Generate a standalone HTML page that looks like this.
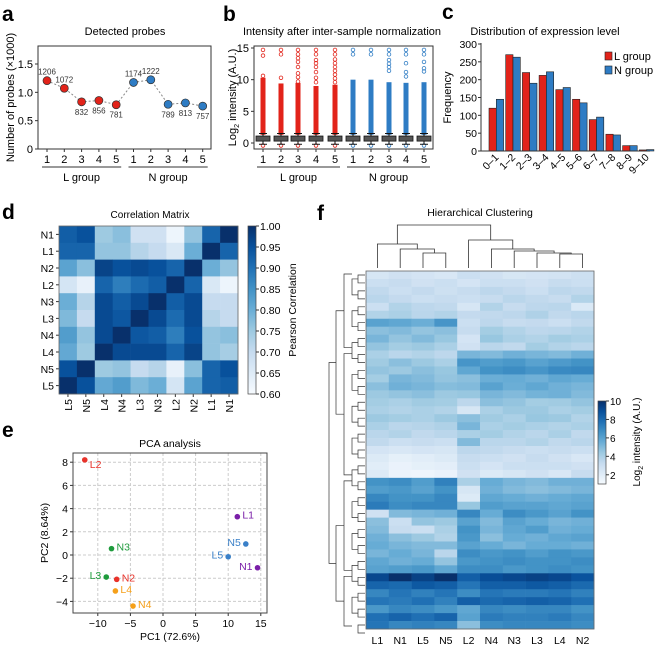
<!DOCTYPE html>
<html><head><meta charset="utf-8">
<style>
html,body{margin:0;padding:0;background:#fff;}
svg{display:block;font-family:"Liberation Sans",Arial,sans-serif;}
</style></head>
<body>
<svg id="fig" width="662" height="648" viewBox="0 0 662 648" xmlns="http://www.w3.org/2000/svg">
<text x="2" y="21" font-size="21" font-weight="bold">a</text>
<text x="223" y="21" font-size="21" font-weight="bold">b</text>
<text x="442" y="19" font-size="21" font-weight="bold">c</text>
<text x="2" y="219" font-size="21" font-weight="bold">d</text>
<text x="2" y="437" font-size="21" font-weight="bold">e</text>
<text x="317" y="220" font-size="21" font-weight="bold">f</text>
<g id="pa"></g>
<g id="pb"></g>
<g id="pc"></g>
<g id="pd"></g>
<g id="pe"></g>
<g id="pf"></g>
</svg>
<script>
const NS="http://www.w3.org/2000/svg";
function mk(parent,tag,attrs,txt){const e=document.createElementNS(NS,tag);for(const k in attrs)e.setAttribute(k,attrs[k]);if(txt!==undefined)e.textContent=txt;parent.appendChild(e);return e;}
function lerp(a,b,t){return a+(b-a)*t;}
const BLUES=[[247,251,255],[222,235,247],[198,219,239],[158,202,225],[107,174,214],[66,146,198],[33,113,181],[8,81,156],[8,48,107]];
function blue(t){t=Math.max(0,Math.min(1,t));const p=t*(BLUES.length-1);const i=Math.min(BLUES.length-2,Math.floor(p));const f=p-i;const a=BLUES[i],b=BLUES[i+1];return `rgb(${Math.round(lerp(a[0],b[0],f))},${Math.round(lerp(a[1],b[1],f))},${Math.round(lerp(a[2],b[2],f))})`;}

// ===== Panel a data =====
const aSamples=["1","2","3","4","5","1","2","3","4","5"];
const aValues=[1206,1072,832,856,781,1174,1222,789,813,757];
const aGroups=["L","L","L","L","L","N","N","N","N","N"];
const aYTicks=[0,0.5,1.0,1.5];
const aYTickLabels=["0","0.5","1.0","1.5"];

// ===== Panel b data =====
const bLDenseTop=[10.3,9.4,9.5,9.0,9.2];
const bNDenseTop=[10.0,10.0,9.6,9.5,9.6];
const bLSparse=[[10.6,13.8,14.7],[10.3,14.0,14.7],[9.7,10.4,11.0,12.0,12.8,13.4,14.0,14.7],[9.6,10.3,11.2,12.0,12.6,13.1,14.0,14.7],[9.6,10.2,10.8,11.4,12.0,12.6,13.2,14.0,14.7]];
const bNSparse=[[14.0,14.7],[14.0,14.7],[11.4,12.0,12.5,13.1,14.0,14.7],[10.5,11.2,12.6,14.0,14.7],[11.3,11.8,12.8,14.0,14.7]];
const bMedian=[0.7,0.7,0.7,0.7,0.7,0.7,0.7,0.7,0.7,0.7];
const bYTicks=[0,5,10,15];

// ===== Panel c data =====
const cCats=["0–1","1–2","2–3","3–4","4–5","5–6","6–7","7–8","8–9","9–10"];
const cL=[120,270,220,212,172,145,88,47,15,3];
const cN=[145,263,190,222,178,135,95,45,15,4];
const cYTicks=[0,50,100,150,200,250,300];

// ===== Panel d data =====
const dCols=["L5","N5","L4","N4","L3","N3","L2","N2","L1","N1"];
const dRows=["N1","L1","N2","L2","N3","L3","N4","L4","N5","L5"];
const dR0=[0.93,0.95,0.75,0.77,0.68,0.68,0.62,0.76,0.92,1.0];
const dR1=[0.92,0.92,0.76,0.76,0.72,0.70,0.66,0.80,1.0,0.92];
const dR2=[0.82,0.77,0.97,0.95,0.96,0.95,0.92,1.0,0.80,0.76];
const dR3=[0.67,0.63,0.92,0.88,0.91,0.93,1.0,0.92,0.66,0.62];
const dR4=[0.80,0.72,0.96,0.93,0.96,1.0,0.93,0.96,0.70,0.70];
const dR5=[0.78,0.70,0.96,0.94,1.0,0.96,0.91,0.96,0.72,0.70];
const dR6=[0.83,0.76,0.96,1.0,0.94,0.93,0.88,0.95,0.76,0.77];
const dR7=[0.81,0.75,1.0,0.96,0.96,0.96,0.92,0.97,0.76,0.74];
const dR8=[0.95,1.0,0.75,0.76,0.70,0.72,0.63,0.77,0.92,0.95];
const dR9=[1.0,0.95,0.81,0.83,0.78,0.80,0.67,0.82,0.92,0.93];
const dCbTicks=["1.00","0.95","0.90","0.85","0.80","0.75","0.70","0.65","0.60"];

// ===== Panel e data =====
const eLabels=["L2","N3","L3","N2","L4","N4","L1","N5","L5","N1"];
const ePC1=[-12,-7.9,-8.7,-7.1,-7.3,-4.6,11.4,12.7,10.0,14.5];
const ePC2=[8.2,0.55,-1.9,-2.1,-3.1,-4.4,3.3,0.95,-0.15,-1.1];
const eColors=["#e8322a","#1e9b3c","#1e9b3c","#e8322a","#f5a01a","#f5a01a","#7a1fa8","#3a80c8","#3a80c8","#7a1fa8"];
const eLabelSide=["r","r","l","r","r","r","r","l","l","l"];
const eXTicks=[-10,-5,0,5,10,15];
const eYTicks=[-4,-2,0,2,4,6,8];

// ===== Panel f data =====
const fCols=["L1","N1","L5","N5","L2","N4","N3","L3","L4","N2"];
const fRows=[
[2.5,2.8,2.6,2.4,3.0,2.8,2.5,2.6,2.7,2.9],
[3.0,3.2,2.8,3.0,2.6,3.0,3.0,2.8,3.2,3.0],
[3.4,3.0,3.3,2.9,3.2,3.5,3.3,3.0,3.5,3.4],
[3.6,3.3,3.0,3.2,3.0,3.2,3.6,3.4,3.2,3.8],
[3.0,3.8,3.5,3.4,2.5,3.8,3.2,3.5,3.6,2.3],
[3.8,4.0,3.6,3.8,3.3,3.4,3.5,3.9,3.4,3.6],
[6.0,5.8,5.5,6.5,3.0,3.5,3.2,3.3,3.0,3.4],
[4.8,5.0,4.6,4.8,3.2,4.2,3.8,3.5,3.6,3.8],
[5.2,4.6,5.0,4.5,2.6,4.5,4.0,3.8,4.2,4.0],
[4.6,4.2,4.4,4.0,2.8,3.6,3.4,4.2,3.8,3.6],
[4.0,3.6,3.8,3.5,5.2,5.0,5.4,5.2,5.0,5.4],
[4.3,4.8,4.4,4.0,6.5,6.2,6.4,6.0,6.3,6.6],
[4.6,4.4,4.8,4.5,5.8,6.6,6.8,6.5,6.9,7.0],
[4.2,5.2,5.0,4.6,4.8,5.5,5.6,5.4,5.8,5.6],
[4.8,5.4,5.2,4.9,5.0,6.0,5.5,5.8,5.4,5.2],
[4.4,4.6,4.8,4.4,4.5,5.2,5.0,5.3,5.4,5.0],
[4.2,4.0,4.3,4.2,3.5,4.8,4.6,4.2,4.3,4.6],
[4.0,3.8,4.0,3.8,2.5,4.0,4.4,4.4,4.0,4.2],
[4.4,4.2,4.0,4.4,4.8,4.3,4.0,4.5,4.4,3.8],
[4.0,3.6,3.7,3.9,5.2,4.0,4.2,4.0,3.8,4.0],
[3.6,3.8,3.4,3.6,4.0,4.2,3.8,3.6,4.0,3.4],
[3.4,3.0,3.2,3.0,5.0,3.6,3.6,3.8,3.4,3.6],
[2.6,2.4,2.6,2.5,3.5,3.4,3.2,3.0,3.2,3.0],
[2.2,1.8,2.0,2.2,3.2,3.0,2.8,3.2,2.8,2.4],
[2.0,1.6,1.8,1.9,3.0,2.6,3.0,3.0,3.0,2.8],
[2.2,1.5,1.4,1.6,2.8,2.2,2.5,2.8,2.4,3.2],
[6.6,6.8,6.2,7.2,4.0,5.6,5.2,5.0,5.4,5.4],
[6.2,6.4,6.0,6.6,2.5,5.4,5.0,4.8,5.0,5.2],
[7.0,6.6,6.6,7.0,2.2,5.8,5.6,5.4,5.6,5.8],
[7.4,6.8,7.0,7.0,4.5,6.2,6.0,6.0,5.8,6.0],
[2.8,5.0,5.2,5.4,7.0,5.6,6.8,6.4,6.0,6.6],
[4.8,3.0,4.6,4.4,6.0,5.0,6.0,5.6,5.2,5.4],
[5.0,3.2,3.0,4.0,6.6,5.2,5.8,6.2,5.4,5.6],
[5.4,4.8,4.4,3.8,6.4,4.8,5.6,5.4,5.8,6.0],
[5.6,5.2,5.0,5.0,6.0,5.6,5.2,5.6,5.6,5.4],
[5.2,5.6,5.2,3.6,6.8,6.4,6.6,6.2,6.6,6.4],
[5.8,5.4,5.6,4.6,6.4,6.6,6.8,6.6,6.6,6.8],
[6.0,6.2,6.4,5.8,6.8,6.8,6.4,6.6,6.8,6.6],
[9.2,10,9.4,10,8.4,9.0,9.2,9.4,9.2,8.8],
[8.2,8.0,8.6,8.4,7.6,8.4,8.4,8.6,8.4,8.0],
[7.0,7.6,7.2,7.6,6.8,7.6,7.4,7.4,7.6,7.2],
[7.6,7.4,7.8,7.2,8.4,8.0,8.2,8.4,8.2,7.8],
[6.4,7.0,6.8,6.4,5.8,7.0,6.8,7.0,7.0,6.6],
[7.8,8.2,7.8,8.2,6.0,7.4,7.2,7.2,7.4,7.0],
[7.6,7.0,7.2,7.0,4.8,6.8,7.0,7.0,7.0,6.8]];
const fCbTicks=[2,4,6,8,10];

// ================= Panel a =================
(function(){
const g=document.getElementById('pa');
const L=38,R=211,T=46,B=149;
const y=v=>B-v*(85/1.5);
const x=i=>47+i*17.3;
let t=mk(g,'text',{x:125,y:35,'font-size':11,'text-anchor':'middle'},'Detected probes');

let r=mk(g,'rect',{x:L,y:T,width:R-L,height:B-T,fill:'none',stroke:'#333','stroke-width':1});

aYTicks.forEach((v,i)=>{const tk=mk(g,'line',{x1:L-3,x2:L,y1:y(v),y2:y(v),stroke:'#333'});

const tl=mk(g,'text',{x:L-5,y:y(v)+4,'font-size':11,'text-anchor':'end'},aYTickLabels[i]);
});
t=mk(g,'text',{transform:`translate(14,${(T+B)/2}) rotate(-90)`,'font-size':11,'text-anchor':'middle'},'Number of probes (×1000)');

const pts=aValues.map((v,i)=>`${x(i)},${y(v/1000)}`).join(' ');
let pl=mk(g,'polyline',{points:pts,fill:'none',stroke:'#888','stroke-dasharray':'2,2','stroke-width':1});

aValues.forEach((v,i)=>{
const c=mk(g,'circle',{cx:x(i),cy:y(v/1000),r:4,fill:aGroups[i]=='L'?'#e2231a':'#2e7cc4',stroke:'#333','stroke-width':0.7});

const above=(i<2||i==5||i==6);
const lb=mk(g,'text',{x:x(i),y:above?y(v/1000)-6:y(v/1000)+13,'font-size':8,'text-anchor':'middle',fill:'#333'},String(v));

const xt=mk(g,'line',{x1:x(i),x2:x(i),y1:B,y2:B+3,stroke:'#333'});

const xl=mk(g,'text',{x:x(i),y:B+14,'font-size':11,'text-anchor':'middle'},aSamples[i]);
});
[['L group',x(0)-5,x(4)+5],['N group',x(5)-5,x(9)+5]].forEach(a=>{
const ln=mk(g,'line',{x1:a[1],x2:a[2],y1:167,y2:167,stroke:'#333'});

const tx=mk(g,'text',{x:(a[1]+a[2])/2,y:181,'font-size':11,'text-anchor':'middle'},a[0]);
});
})();

// ================= Panel b =================
(function(){
const g=document.getElementById('pb');
const L=254,R=433,T=46,B=149;
const y=v=>143-v*(95/15);
const xs=[263,281,298,316,335,353,371,389,406,424];
let t=mk(g,'text',{x:342,y:35,'font-size':11,'text-anchor':'middle'},'Intensity after inter-sample normalization');

let r=mk(g,'rect',{x:L,y:T,width:R-L,height:B-T,fill:'none',stroke:'#333'});

bYTicks.forEach(v=>{const tk=mk(g,'line',{x1:L-3,x2:L,y1:y(v),y2:y(v),stroke:'#333'});

const tl=mk(g,'text',{x:L-5,y:y(v)+4,'font-size':11,'text-anchor':'end'},String(v));
});
t=mk(g,'text',{transform:`translate(236,${(T+B)/2}) rotate(-90)`,'font-size':11,'text-anchor':'middle'});

t.innerHTML='Log<tspan font-size="7" dy="3">2</tspan><tspan dy="-3"> intensity (A.U.)</tspan>';
xs.forEach((cx,i)=>{
const isL=i<5;const col=isL?'#e2231a':'#2e7cc4';const k=i%5;
const top=isL?bLDenseTop[k]:bNDenseTop[k];
const d=mk(g,'rect',{x:cx-2.5,y:y(top),width:5,height:y(1.3)-y(top),fill:col});

(isL?bLSparse[k]:bNSparse[k]).forEach(v=>{const c=mk(g,'circle',{cx:cx,cy:y(v),r:1.8,fill:'none',stroke:col,'stroke-width':0.8});
});
const lo=mk(g,'circle',{cx:cx,cy:y(-0.4),r:1.8,fill:'none',stroke:col,'stroke-width':0.8});

const w=mk(g,'line',{x1:cx,x2:cx,y1:y(-0.2),y2:y(1.5),stroke:'#111'});

[-0.2,1.5].forEach(v=>{const c=mk(g,'line',{x1:cx-4,x2:cx+4,y1:y(v),y2:y(v),stroke:'#111'});
});
const bx=mk(g,'rect',{x:cx-7,y:y(bMedian[i]+0.4),width:14,height:y(bMedian[i]-0.4)-y(bMedian[i]+0.4),fill:'#555',stroke:'#111','stroke-width':0.8});

const xt=mk(g,'line',{x1:cx,x2:cx,y1:B,y2:B+3,stroke:'#333'});

const xl=mk(g,'text',{x:cx,y:B+14,'font-size':11,'text-anchor':'middle'},String(k+1));
});
[['L group',257,340],['N group',347,430]].forEach(a=>{
const ln=mk(g,'line',{x1:a[1],x2:a[2],y1:167,y2:167,stroke:'#333'});

const tx=mk(g,'text',{x:(a[1]+a[2])/2,y:181,'font-size':11,'text-anchor':'middle'},a[0]);
});
})();

// ================= Panel c =================
(function(){
const g=document.getElementById('pc');
const L=481,R=650,B=151,T=44;
const y=v=>B-v*(B-T)/300;
const gx=i=>L+8+i*16.7;
let t=mk(g,'text',{x:545,y:35,'font-size':11,'text-anchor':'middle'},'Distribution of expression level');

cCats.forEach((c,i)=>{
const b1=mk(g,'rect',{x:gx(i),y:y(cL[i]),width:7.3,height:B-y(cL[i]),fill:'#e2231a',stroke:'#222','stroke-width':0.6});

const b2=mk(g,'rect',{x:gx(i)+7.3,y:y(cN[i]),width:7.3,height:B-y(cN[i]),fill:'#2e7cc4',stroke:'#222','stroke-width':0.6});

const cx=gx(i)+7.3;
const tl=mk(g,'text',{transform:`translate(${cx+3},${B+7}) rotate(-45)`,'font-size':10.5,'text-anchor':'end'},c);
});
let ax=mk(g,'path',{d:`M${L},${T-1}V${B}H${R}`,fill:'none',stroke:'#333'});

cYTicks.forEach(v=>{const tk=mk(g,'line',{x1:L-3,x2:L,y1:y(v),y2:y(v),stroke:'#333'});

const tl=mk(g,'text',{x:L-4,y:y(v)+4,'font-size':10.5,'text-anchor':'end'},String(v));
});
t=mk(g,'text',{transform:`translate(451,${(T+B)/2}) rotate(-90)`,'font-size':11,'text-anchor':'middle'},'Frequency');

[['L group','#e2231a',60],['N group','#2e7cc4',74]].forEach(a=>{
const s=mk(g,'rect',{x:605,y:a[2]-8,width:7,height:8,fill:a[1],stroke:'#222','stroke-width':0.6});

const tx=mk(g,'text',{x:614,y:a[2],'font-size':11},a[0]);
});
})();

// ================= Panel d =================
(function(){
const g=document.getElementById('pd');
const L=59,T=226,cw=17.9,ch=16.8;
const rows=[dR0,dR1,dR2,dR3,dR4,dR5,dR6,dR7,dR8,dR9];
const col=v=>blue((v-0.6)/0.4);
let t=mk(g,'text',{x:150,y:218,'font-size':10,'text-anchor':'middle'},'Correlation Matrix');

rows.forEach((row,ri)=>{row.forEach((v,ci)=>{
const c=mk(g,'rect',{x:L+ci*cw,y:T+ri*ch,width:cw+0.3,height:ch+0.3,fill:col(v)});
});
const tl=mk(g,'text',{x:L-5,y:T+ri*ch+ch/2+4,'font-size':10.5,'text-anchor':'end'},dRows[ri]);

const tk=mk(g,'line',{x1:L-3,x2:L,y1:T+ri*ch+ch/2,y2:T+ri*ch+ch/2,stroke:'#333'});
});
dCols.forEach((c,ci)=>{const cx=L+ci*cw+cw/2;
const tk=mk(g,'line',{x1:cx,x2:cx,y1:T+10*ch,y2:T+10*ch+3,stroke:'#333'});

const tl=mk(g,'text',{transform:`translate(${cx+4},${T+10*ch+5}) rotate(-90)`,'font-size':10.5,'text-anchor':'end'},c);
});
let fr=mk(g,'rect',{x:L,y:T,width:10*cw,height:10*ch,fill:'none',stroke:'#666','stroke-width':0.8});

const defs=mk(g,'defs',{});const lg=mk(defs,'linearGradient',{id:'gd',x1:0,y1:1,x2:0,y2:0});
for(let i=0;i<=8;i++)mk(lg,'stop',{offset:i/8,'stop-color':blue(i/8)});
let cb=mk(g,'rect',{x:248,y:T,width:8,height:10*ch,fill:'url(#gd)',stroke:'#444','stroke-width':0.7});

dCbTicks.forEach((s,i)=>{const yy=T+i*(10*ch)/8;
const tk=mk(g,'line',{x1:256,x2:259,y1:yy,y2:yy,stroke:'#333'});

const tl=mk(g,'text',{x:260,y:yy+4,'font-size':10.5},s);
});
t=mk(g,'text',{transform:`translate(296,310) rotate(-90)`,'font-size':10.5,'text-anchor':'middle'},'Pearson Correlation');

})();

// ================= Panel e =================
(function(){
const g=document.getElementById('pe');
const L=73,R=267,T=453,B=613;
const x=v=>163+v*6.52;const y=v=>555-v*11.6;
let t=mk(g,'text',{x:170,y:447,'font-size':10.5,'text-anchor':'middle'},'PCA analysis');

eXTicks.forEach(v=>{const gl=mk(g,'line',{x1:x(v),x2:x(v),y1:T,y2:B,stroke:'#ccc','stroke-dasharray':'3,2'});

const tk=mk(g,'line',{x1:x(v),x2:x(v),y1:B,y2:B+3,stroke:'#333'});

const tl=mk(g,'text',{x:x(v),y:B+14,'font-size':10.5,'text-anchor':'middle'},v<0?'−'+(-v):String(v));
});
eYTicks.forEach(v=>{const gl=mk(g,'line',{x1:L,x2:R,y1:y(v),y2:y(v),stroke:'#ccc','stroke-dasharray':'3,2'});

const tk=mk(g,'line',{x1:L-3,x2:L,y1:y(v),y2:y(v),stroke:'#333'});

const tl=mk(g,'text',{x:L-5,y:y(v)+4,'font-size':10.5,'text-anchor':'end'},v<0?'−'+(-v):String(v));
});
let fr=mk(g,'rect',{x:L,y:T,width:R-L,height:B-T,fill:'none',stroke:'#444'});

eLabels.forEach((lb,i)=>{const cx=x(ePC1[i]),cy=y(ePC2[i]);
const c=mk(g,'circle',{cx:cx,cy:cy,r:2.8,fill:eColors[i]});

const right=eLabelSide[i]=='r';
const tl=mk(g,'text',{x:right?cx+5:cx-5,y:(lb=='L2'?cy+8:cy+2),'font-size':10.5,fill:eColors[i],'text-anchor':right?'start':'end'},lb);
});
t=mk(g,'text',{x:170,y:640,'font-size':10.5,'text-anchor':'middle'},'PC1 (72.6%)');

t=mk(g,'text',{transform:`translate(48,533) rotate(-90)`,'font-size':10.5,'text-anchor':'middle'},'PC2 (8.64%)');

})();

// ================= Panel f =================
(function(){
const g=document.getElementById('pf');
const L=366,R=594,T=271,B=629;
const cw=(R-L)/10,rh=(B-T)/fRows.length;
const col=v=>blue((v-1)/9);
let t=mk(g,'text',{x:480,y:216,'font-size':10.5,'text-anchor':'middle'},'Hierarchical Clustering');

fRows.forEach((row,ri)=>row.forEach((v,ci)=>{
const c=mk(g,'rect',{x:L+ci*cw,y:T+ri*rh,width:cw+0.3,height:rh+0.3,fill:col(v)});
}));
let fr=mk(g,'rect',{x:L,y:T,width:R-L,height:B-T,fill:'none',stroke:'#666','stroke-width':0.8});

fCols.forEach((c,ci)=>{const tl=mk(g,'text',{x:L+ci*cw+cw/2,y:644,'font-size':10.5,'text-anchor':'middle'},c);
});
const cx=i=>L+i*cw+cw/2;
let dp='';
const xA=(cx(2)+cx(3))/2, xB=(cx(1)+xA)/2, xC=(cx(0)+xB)/2;
const xD=(cx(8)+cx(9))/2, xE=(cx(7)+xD)/2, xF=(cx(6)+xE)/2, xG=(cx(5)+xF)/2, xH=(cx(4)+xG)/2;
dp+=`M${cx(2)},268V253H${cx(3)}V268 M${cx(1)},268V249H${xA}V253 M${cx(0)},268V244H${xB}V249`;
dp+=`M${cx(8)},268V254H${cx(9)}V268 M${cx(7)},268V253H${xD}V254 M${cx(6)},268V251H${xE}V253 M${cx(5)},268V249H${xF}V251 M${cx(4)},268V240H${xG}V249`;
dp+=`M${xC},244V225H${xH}V240`;
let dd=mk(g,'path',{d:dp,fill:'none',stroke:'#333','stroke-width':0.8});

let rp='';
for(let i=0;i<fRows.length;i+=2){const y1=T+i*rh+rh/2,y2=T+(i+1)*rh+rh/2;rp+=`M${L-1},${y1}H${L-8}V${y2}H${L-1}`;}
for(let i=0;i<fRows.length-2;i+=4){const y1=T+i*rh+rh,y2=T+(i+2)*rh+rh;rp+=`M${L-8},${y1}H${L-14}V${y2}H${L-8}`;}
const cl=[[0,10,L-14,L-22],[10,26,L-14,L-22],[26,38,L-14,L-22],[38,45,L-14,L-22]];
const mid=c=>T+(c[0]+c[1])/2*rh;
cl.forEach(c=>{rp+=`M${c[2]},${T+c[0]*rh+3}H${c[3]}V${T+c[1]*rh-3}H${c[2]}`;});
rp+=`M${L-22},${mid(cl[0])}H${L-30}V${mid(cl[1])}H${L-22}`;
rp+=`M${L-22},${mid(cl[2])}H${L-30}V${mid(cl[3])}H${L-22}`;
rp+=`M${L-30},${(mid(cl[0])+mid(cl[1]))/2}H${L-37}V${(mid(cl[2])+mid(cl[3]))/2}H${L-30}`;
let rd=mk(g,'path',{d:rp,fill:'none',stroke:'#333','stroke-width':0.7});

const defs=mk(g,'defs',{});const lg=mk(defs,'linearGradient',{id:'gf',x1:0,y1:1,x2:0,y2:0});
for(let i=0;i<=8;i++)mk(lg,'stop',{offset:i/8,'stop-color':blue(i/8)});
let cb=mk(g,'rect',{x:598,y:401,width:8,height:83,fill:'url(#gf)',stroke:'#444','stroke-width':0.7});

const cy=v=>484-(v-1)*(83/9);
fCbTicks.forEach(v=>{const tk=mk(g,'line',{x1:606,x2:609,y1:cy(v),y2:cy(v),stroke:'#333'});

const tl=mk(g,'text',{x:610,y:cy(v)+4,'font-size':10},String(v));
});
t=mk(g,'text',{transform:`translate(640,442) rotate(-90)`,'font-size':10,'text-anchor':'middle'});

t.innerHTML='Log<tspan font-size="7" dy="3">2</tspan><tspan dy="-3"> intensity (A.U.)</tspan>';
})();
</script>
</body></html>
